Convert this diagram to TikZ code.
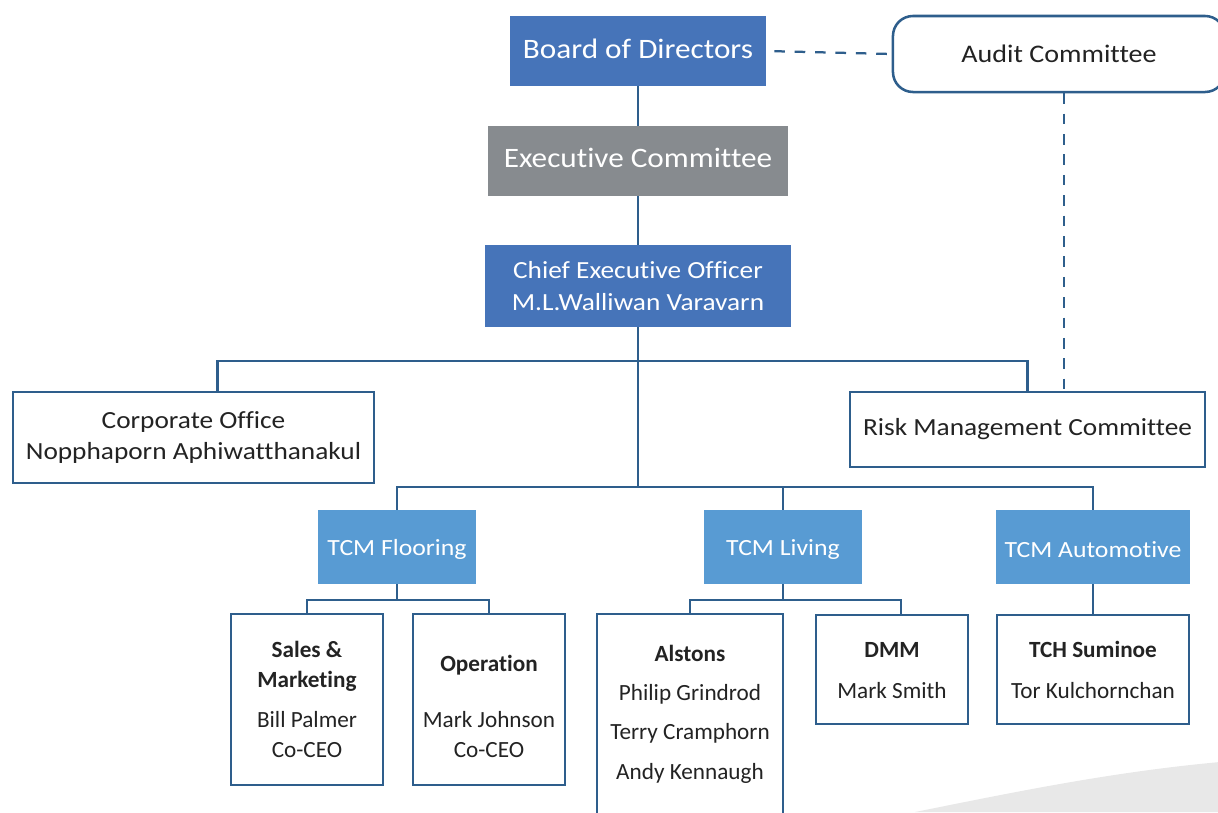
\documentclass[tikz,border=0pt]{standalone}
\usepackage{fontspec}
\setmainfont{Carlito}[Ligatures=NoCommon]
\newfontfamily\widefont{Carlito}[FakeStretch=1.11, Ligatures=NoCommon]
\definecolor{boardblue}{RGB}{70,116,185}
\definecolor{execgray}{RGB}{135,139,143}
\definecolor{unitblue}{RGB}{88,155,211}
\definecolor{linkblue}{RGB}{46,94,140}
\definecolor{swooshgray}{RGB}{232,232,232}
\definecolor{inkgray}{RGB}{35,35,35}
% shift a label up or down without changing its box
\newcommand{\nudge}[2]{\raisebox{#1}[\height][\depth]{#2}}

\begin{document}
\begin{tikzpicture}[x=0.025cm, y=-0.025cm,
    topbox/.style={fill=boardblue, text=white, inner sep=0pt, align=center,
      font=\widefont\fontsize{20}{24}\selectfont},
    unitbox/.style={fill=unitblue, text=white, inner sep=0pt,
      minimum height=1.85cm, font=\widefont\fontsize{16.5}{20}\selectfont},
    framebox/.style={draw=linkblue, line width=1.8pt, fill=white, text=inkgray,
      inner sep=0pt, align=center, font=\widefont\fontsize{17.5}{22.5}\selectfont},
    subbox/.style={framebox, font=\fontsize{16.5}{21}\selectfont},
    link/.style={draw=linkblue, line width=1.5pt},
    dottedlink/.style={draw=linkblue, line width=1.6pt, dash pattern=on 7.5pt off 7pt}]

    \path[use as bounding box] (0,0) rectangle (1218,812);
    \clip (0,0) rectangle (1218,812);

    % Backdrop swoosh
    \fill[swooshgray] (915,812) .. controls (1010,793) and (1110,772) .. (1220,762)
        -- (1220,812) -- cycle;

    % Top of the chart
    \node[topbox, minimum width=6.4cm, minimum height=1.75cm] (bod) at (638,51) {\nudge{1.5pt}{Board of Directors}};
    \node[framebox, rounded corners=0.5cm, minimum width=8.3cm, minimum height=1.9cm,
          font=\widefont\fontsize{18}{22}\selectfont] (audit) at (1059,54) {Audit Committee};
    \node[topbox, fill=execgray, minimum width=7.475cm, minimum height=1.75cm] (exec) at (638,161) {\nudge{2.5pt}{Executive Committee}};
    \node[topbox, minimum width=7.65cm, minimum height=2.05cm,
          font=\widefont\fontsize{17.5}{22.5}\selectfont] (ceo) at (638,286) {Chief Executive Officer\\M.L.Walliwan Varavarn};

    % Staff functions
    \node[framebox, minimum width=9.025cm, minimum height=2.275cm] (corp) at (193.5,437.5) {Corporate Office\\Nopphaporn Aphiwatthanakul};
    \node[framebox, minimum width=8.875cm, minimum height=1.875cm] (risk) at (1027.5,429.5) {Risk Management Committee};

    % Business units
    \node[unitbox, minimum width=3.95cm] (flooring) at (397,547) {\nudge{-2pt}{TCM Flooring}};
    \node[unitbox, minimum width=3.95cm] (living) at (783,547) {\nudge{-2pt}{TCM Living}};
    \node[unitbox, minimum width=4.85cm] (auto) at (1093,547) {\nudge{-2pt}{TCM Automotive}};

    % Companies and heads
    \node[subbox, minimum width=3.8cm, minimum height=4.275cm] (sales) at (307,699.5)
        {\textbf{Sales \&}\\\textbf{Marketing}\\[8pt]Bill Palmer\\Co-CEO};
    \node[subbox, minimum width=3.8cm, minimum height=4.275cm] (oper) at (489,699.5)
        {\nudge{-0.22cm}{\begin{tabular}{@{}c@{}}
          \textbf{Operation}\\[19pt]Mark Johnson\\Co-CEO\end{tabular}}};
    \node[subbox, minimum width=4.65cm, minimum height=5cm] (alstons) at (690,714)
        {\textbf{Alstons}\\[7pt]Philip Grindrod\\[7pt]Terry Cramphorn\\[7pt]Andy Kennaugh};
    \node[subbox, minimum width=3.8cm, minimum height=2.725cm] (dmm) at (892,669.5)
        {\nudge{-2pt}{\begin{tabular}{@{}c@{}}\textbf{DMM}\\[8pt]Mark Smith\end{tabular}}};
    \node[subbox, minimum width=4.8cm, minimum height=2.725cm] (tch) at (1093,669.5)
        {\nudge{-2pt}{\begin{tabular}{@{}c@{}}\textbf{TCH Suminoe}\\[8pt]Tor Kulchornchan\end{tabular}}};

    % Reporting lines
    \coordinate (staffbus) at (638,361);
    \coordinate (unitbus) at (638,487);
    \draw[link] (bod) -- (exec);
    \draw[link] (exec) -- (ceo);
    \draw[link] (ceo.south) -- (unitbus);
    \draw[link] ([xshift=0.6cm]corp.north) |- (staffbus) -| (risk.north);
    \draw[link] (flooring.north) |- (unitbus) -| (auto.north);
    \draw[link] (living.north) -- (living.north |- unitbus);

    \draw[link] (flooring.south) -- ([yshift=-0.4cm]flooring.south) coordinate (floorbus);
    \draw[link] (sales.north) |- (floorbus) -| (oper.north);
    \draw[link] (living.south) -- ([yshift=-0.4cm]living.south) coordinate (livebus);
    \draw[link] (alstons.north) |- (livebus) -| ([xshift=0.225cm]dmm.north);
    \draw[link] (auto) -- (tch);

    % Dotted oversight lines
    \draw[dottedlink, shorten <=0.2cm] (bod.east) -- (audit.west);
    \draw[dottedlink] ([xshift=0.125cm]audit.south) coordinate (auditfoot)
        -- (auditfoot |- risk.north);
\end{tikzpicture}
\end{document}
